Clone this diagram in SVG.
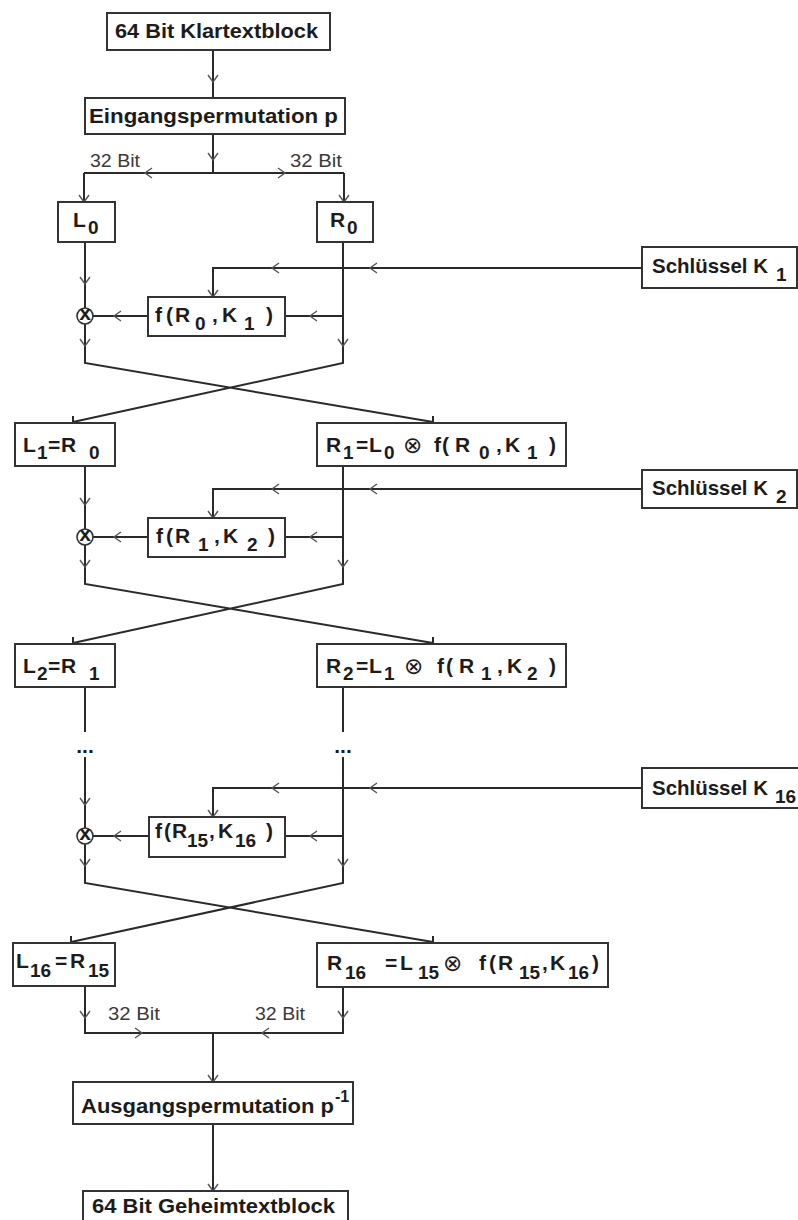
<svg xmlns="http://www.w3.org/2000/svg" xmlns:xlink="http://www.w3.org/1999/xlink" width="798" height="1220" viewBox="0 0 798 1220">
<style>
.box{fill:#fff;stroke:#333;stroke-width:2}
.ln{fill:none;stroke:#2a2a2a;stroke-width:2}
.ch{fill:none;stroke:#555;stroke-width:1.4}
.t{font-family:"Liberation Sans","DejaVu Sans",sans-serif;font-weight:bold;font-size:21px;fill:#1c1c1c}
.sb{font-size:19px}
.x{font-family:"DejaVu Sans",sans-serif;font-size:23px;font-weight:normal}
.r{font-family:"Liberation Sans",sans-serif;font-size:19px;fill:#3a3a3a}
.xo{fill:#fff;stroke:#333;stroke-width:1.6}
</style>
<defs>
<path id="cd" class="ch" d="M-5,-7 L0,0 L5,-7"/>
</defs>
<rect width="798" height="1220" fill="#fff"/>

<g id="connectors">
<path class="ln" d="M213,50 V98 M213,134 V173 M84,173 H344 M84,173 V202 M344,173 V202"/>
<use xlink:href="#cd" transform="translate(213,82)"/>
<use xlink:href="#cd" transform="translate(213,160)"/>
<use xlink:href="#cd" transform="translate(145,173) rotate(90)"/>
<use xlink:href="#cd" transform="translate(285,173) rotate(-90)"/>
<use xlink:href="#cd" transform="translate(84,202)"/>
<use xlink:href="#cd" transform="translate(344,202)"/>

<path class="ln" d="M85,242 V308 M85,324 V363 L433,422 M343,242 V363 L73,422 M343,316 H285 M148,316 H93 M642,268 H213 V297 M73,416 V422 M433,416 V422"/>
<use xlink:href="#cd" transform="translate(85,284)"/>
<use xlink:href="#cd" transform="translate(85,346)"/>
<use xlink:href="#cd" transform="translate(343,346)"/>
<use xlink:href="#cd" transform="translate(310,316) rotate(90)"/>
<use xlink:href="#cd" transform="translate(114,316) rotate(90)"/>
<use xlink:href="#cd" transform="translate(370,268) rotate(90)"/>
<use xlink:href="#cd" transform="translate(272,268) rotate(90)"/>
<use xlink:href="#cd" transform="translate(213,297)"/>

<path class="ln" d="M85,466 V529 M85,545 V584 L433,643 M343,466 V584 L73,643 M343,537 H285 M148,537 H93 M642,489 H213 V518 M73,637 V643 M433,637 V643"/>
<use xlink:href="#cd" transform="translate(85,505)"/>
<use xlink:href="#cd" transform="translate(85,567)"/>
<use xlink:href="#cd" transform="translate(343,567)"/>
<use xlink:href="#cd" transform="translate(310,537) rotate(90)"/>
<use xlink:href="#cd" transform="translate(114,537) rotate(90)"/>
<use xlink:href="#cd" transform="translate(370,489) rotate(90)"/>
<use xlink:href="#cd" transform="translate(272,489) rotate(90)"/>
<use xlink:href="#cd" transform="translate(213,518)"/>

<path class="ln" d="M85,687 V732 M343,687 V732"/>

<path class="ln" d="M85,757 V828 M85,844 V883 L433,942 M343,757 V883 L71,942 M343,836 H285 M149,836 H93 M642,788 H213 V817 M71,936 V942 M433,936 V942"/>
<use xlink:href="#cd" transform="translate(85,805)"/>
<use xlink:href="#cd" transform="translate(85,866)"/>
<use xlink:href="#cd" transform="translate(343,866)"/>
<use xlink:href="#cd" transform="translate(310,836) rotate(90)"/>
<use xlink:href="#cd" transform="translate(114,836) rotate(90)"/>
<use xlink:href="#cd" transform="translate(370,788) rotate(90)"/>
<use xlink:href="#cd" transform="translate(272,788) rotate(90)"/>
<use xlink:href="#cd" transform="translate(213,817)"/>

<path class="ln" d="M85,986 V1033 H343 V987 M213,1033 V1082 M213,1124 V1191"/>
<use xlink:href="#cd" transform="translate(85,1018)"/>
<use xlink:href="#cd" transform="translate(343,1018)"/>
<use xlink:href="#cd" transform="translate(142,1033) rotate(-90)"/>
<use xlink:href="#cd" transform="translate(262,1033) rotate(90)"/>
<use xlink:href="#cd" transform="translate(213,1082)"/>
<use xlink:href="#cd" transform="translate(213,1191)"/>

<text class="r" x="90" y="167" textLength="50" lengthAdjust="spacingAndGlyphs">32 Bit</text>
<text class="r" x="290" y="167" textLength="52" lengthAdjust="spacingAndGlyphs">32 Bit</text>
<text class="r" x="108" y="1020" textLength="52" lengthAdjust="spacingAndGlyphs">32 Bit</text>
<text class="r" x="255" y="1020" textLength="50" lengthAdjust="spacingAndGlyphs">32 Bit</text>
<text class="t" x="85" y="753" text-anchor="middle" font-size="12" fill="#333">...</text>
<text class="t" x="343" y="753" text-anchor="middle" font-size="12" fill="#333">...</text>
</g>

<g id="klartext">
<rect class="box" x="107" y="13" width="223" height="37"/>
<text class="t" x="115" y="38" textLength="203" lengthAdjust="spacingAndGlyphs">64 Bit Klartextblock</text>
</g>
<g id="eingangspermutation">
<rect class="box" x="85" y="98" width="260" height="36"/>
<text class="t" x="89" y="123" textLength="249" lengthAdjust="spacingAndGlyphs">Eingangspermutation p</text>
</g>

<g id="L0">
<rect class="box" x="58" y="202" width="57" height="40"/>
<text class="t"><tspan x="73" y="227">L</tspan><tspan class="sb" x="88" y="234">0</tspan></text>
</g>
<g id="R0">
<rect class="box" x="317" y="202" width="56" height="40"/>
<text class="t"><tspan x="330" y="227">R</tspan><tspan class="sb" x="347" y="234">0</tspan></text>
</g>

<g id="key1">
<rect class="box" x="642" y="247" width="155" height="41"/>
<text class="t"><tspan x="652" y="273" textLength="116" lengthAdjust="spacingAndGlyphs">Schlüssel K</tspan><tspan class="sb" x="776" y="281">1</tspan></text>
</g>
<g id="f1">
<rect class="box" x="148" y="297" width="137" height="39"/>
<text class="t"><tspan x="155" y="322">f</tspan><tspan x="166" y="322">(</tspan><tspan x="175" y="322">R</tspan><tspan class="sb" x="195" y="330">0</tspan><tspan x="212" y="322">,</tspan><tspan x="222" y="322">K</tspan><tspan class="sb" x="244" y="330">1</tspan><tspan x="266" y="322">)</tspan></text>
</g>
<g id="xor1">
<circle class="xo" cx="85" cy="316" r="8"/>
<text class="t" x="85" y="320" font-size="12" text-anchor="middle">x</text>
</g>

<g id="L1">
<rect class="box" x="15" y="423" width="100" height="43"/>
<text class="t"><tspan x="23" y="452">L</tspan><tspan class="sb" x="37" y="459">1</tspan><tspan x="48" y="452">=</tspan><tspan x="61" y="452">R</tspan><tspan class="sb" x="89" y="459">0</tspan></text>
</g>
<g id="R1">
<rect class="box" x="317" y="423" width="249" height="43"/>
<text class="t"><tspan x="326" y="452">R</tspan><tspan class="sb" x="343" y="459">1</tspan><tspan x="356" y="452">=</tspan><tspan x="369" y="452">L</tspan><tspan class="sb" x="384" y="459">0</tspan><tspan class="x" x="403" y="453">⊗</tspan><tspan x="434" y="452">f</tspan><tspan x="442" y="452">(</tspan><tspan x="455" y="452">R</tspan><tspan class="sb" x="479" y="459">0</tspan><tspan x="496" y="452">,</tspan><tspan x="505" y="452">K</tspan><tspan class="sb" x="527" y="459">1</tspan><tspan x="549" y="452">)</tspan></text>
</g>

<g id="key2">
<rect class="box" x="642" y="470" width="155" height="38"/>
<text class="t"><tspan x="652" y="495" textLength="116" lengthAdjust="spacingAndGlyphs">Schlüssel K</tspan><tspan class="sb" x="776" y="503">2</tspan></text>
</g>
<g id="f2">
<rect class="box" x="148" y="518" width="137" height="39"/>
<text class="t"><tspan x="156" y="543">f</tspan><tspan x="166" y="543">(</tspan><tspan x="175" y="543">R</tspan><tspan class="sb" x="198" y="551">1</tspan><tspan x="214" y="543">,</tspan><tspan x="223" y="543">K</tspan><tspan class="sb" x="247" y="551">2</tspan><tspan x="268" y="543">)</tspan></text>
</g>
<g id="xor2">
<circle class="xo" cx="85" cy="537" r="8"/>
<text class="t" x="85" y="541" font-size="12" text-anchor="middle">x</text>
</g>

<g id="L2">
<rect class="box" x="15" y="644" width="100" height="43"/>
<text class="t"><tspan x="23" y="673">L</tspan><tspan class="sb" x="37" y="680">2</tspan><tspan x="48" y="673">=</tspan><tspan x="61" y="673">R</tspan><tspan class="sb" x="89" y="680">1</tspan></text>
</g>
<g id="R2">
<rect class="box" x="317" y="644" width="249" height="43"/>
<text class="t"><tspan x="326" y="673">R</tspan><tspan class="sb" x="343" y="680">2</tspan><tspan x="356" y="673">=</tspan><tspan x="369" y="673">L</tspan><tspan class="sb" x="384" y="680">1</tspan><tspan class="x" x="404" y="674">⊗</tspan><tspan x="437" y="673">f</tspan><tspan x="446" y="673">(</tspan><tspan x="459" y="673">R</tspan><tspan class="sb" x="481" y="680">1</tspan><tspan x="497" y="673">,</tspan><tspan x="507" y="673">K</tspan><tspan class="sb" x="527" y="680">2</tspan><tspan x="549" y="673">)</tspan></text>
</g>

<g id="key16">
<rect class="box" x="642" y="768" width="160" height="40"/>
<text class="t"><tspan x="652" y="795" textLength="116" lengthAdjust="spacingAndGlyphs">Schlüssel K</tspan><tspan class="sb" x="775" y="803">16</tspan></text>
</g>
<g id="f16">
<rect class="box" x="149" y="817" width="136" height="40"/>
<text class="t"><tspan x="155" y="838">f</tspan><tspan x="164" y="838">(</tspan><tspan x="172" y="838">R</tspan><tspan class="sb" x="187" y="847">15</tspan><tspan x="209" y="838">,</tspan><tspan x="218" y="838">K</tspan><tspan class="sb" x="235" y="847">16</tspan><tspan x="266" y="838">)</tspan></text>
</g>
<g id="xor16">
<circle class="xo" cx="85" cy="836" r="8"/>
<text class="t" x="85" y="840" font-size="12" text-anchor="middle">x</text>
</g>

<g id="L16">
<rect class="box" x="13" y="943" width="102" height="43"/>
<text class="t"><tspan x="16" y="968">L</tspan><tspan class="sb" x="30" y="977">16</tspan><tspan x="55" y="968">=</tspan><tspan x="70" y="968">R</tspan><tspan class="sb" x="88" y="977">15</tspan></text>
</g>
<g id="R16">
<rect class="box" x="317" y="943" width="291" height="44"/>
<text class="t"><tspan x="327" y="970">R</tspan><tspan class="sb" x="345" y="979">16</tspan><tspan x="385" y="970">=</tspan><tspan x="400" y="970">L</tspan><tspan class="sb" x="418" y="979">15</tspan><tspan class="x" x="443" y="971">⊗</tspan><tspan x="479" y="970">f</tspan><tspan x="489" y="970">(</tspan><tspan x="498" y="970">R</tspan><tspan class="sb" x="519" y="979">15</tspan><tspan x="542" y="970">,</tspan><tspan x="550" y="970">K</tspan><tspan class="sb" x="568" y="979">16</tspan><tspan x="592" y="970">)</tspan></text>
</g>

<g id="ausgangspermutation">
<rect class="box" x="73" y="1082" width="280" height="42"/>
<text class="t"><tspan x="81" y="1113" textLength="253" lengthAdjust="spacingAndGlyphs">Ausgangspermutation p</tspan><tspan x="335" y="1102" font-size="16">-1</tspan></text>
</g>
<g id="geheimtext">
<rect class="box" x="83" y="1191" width="265" height="42"/>
<text class="t" x="92" y="1213" textLength="243" lengthAdjust="spacingAndGlyphs">64 Bit Geheimtextblock</text>
</g>
</svg>
